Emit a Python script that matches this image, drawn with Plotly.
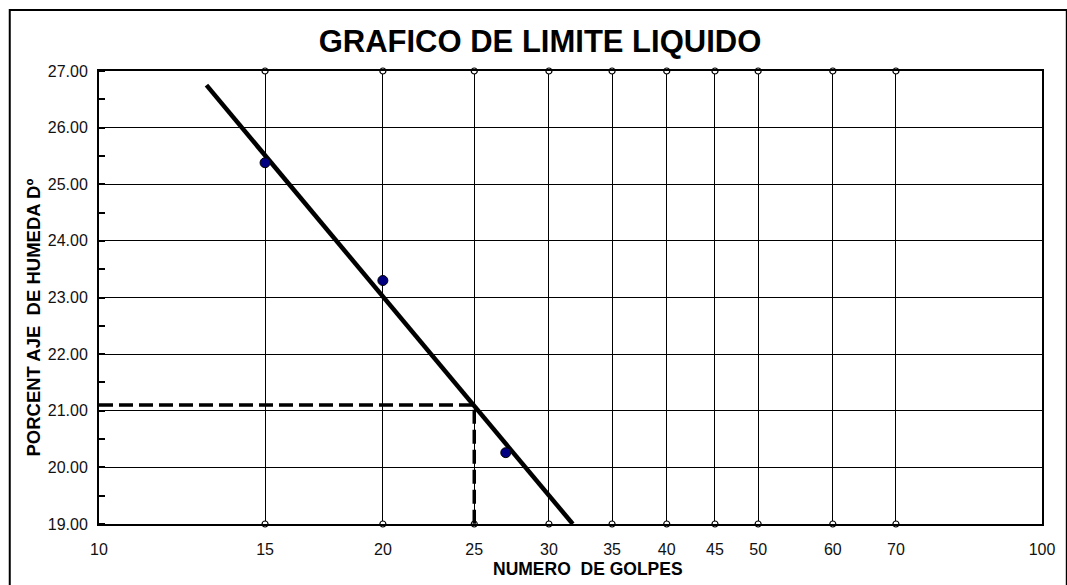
import plotly.graph_objects as go

# ---- data ----
blows = [15, 20, 27]
moisture = [25.38, 23.30, 20.26]

trend_x = [13.0, 31.8]
trend_y = [26.75, 19.0]

ll_blows = 25
ll_value = 21.1

grid_x = [15, 20, 25, 30, 35, 40, 45, 50, 60, 70]
x_tick_vals = [10, 15, 20, 25, 30, 35, 40, 45, 50, 60, 70, 100]
x_tick_text = [str(v) for v in x_tick_vals]

y_min, y_max = 19, 27

FONT = "Liberation Sans, Arial, sans-serif"

fig = go.Figure()

# end markers of vertical grid lines (top & bottom)
fig.add_trace(go.Scatter(
    x=grid_x + grid_x,
    y=[y_max] * len(grid_x) + [y_min] * len(grid_x),
    mode="markers",
    marker=dict(symbol="circle", size=6, color="white",
                line=dict(color="black", width=1.2)),
    cliponaxis=False, hoverinfo="skip", showlegend=False,
))

# liquid limit dashed guide
fig.add_trace(go.Scatter(
    x=[10, ll_blows, ll_blows],
    y=[ll_value, ll_value, y_min],
    mode="lines",
    line=dict(color="black", width=3.5, dash="14px,6px"),
    cliponaxis=False, hoverinfo="skip", showlegend=False,
))

# trend line
fig.add_trace(go.Scatter(
    x=trend_x, y=trend_y, mode="lines",
    line=dict(color="black", width=4.5),
    hoverinfo="skip", showlegend=False,
))

# measured points
fig.add_trace(go.Scatter(
    x=blows, y=moisture, mode="markers",
    marker=dict(symbol="circle", size=10, color="#000080",
                line=dict(color="black", width=1)),
    showlegend=False,
))

fig.update_layout(
    width=1067, height=585,
    margin=dict(l=99, r=17, t=71, b=61),
    paper_bgcolor="white", plot_bgcolor="white",
    font=dict(family=FONT, color="black", size=16),
    title=dict(text="<b>GRAFICO DE LIMITE LIQUIDO</b>",
               x=540 / 1067, xanchor="center",
               y=1 - 41 / 585, yanchor="middle",
               font=dict(family=FONT, size=31, color="black")),
    showlegend=False,
)

fig.update_xaxes(
    type="log", range=[1, 2],
    tickmode="array", tickvals=x_tick_vals, ticktext=x_tick_text,
    showgrid=True, gridcolor="black", gridwidth=1,
    showline=True, linecolor="black", linewidth=2, mirror=True,
    ticks="outside", ticklen=10, tickcolor="rgba(0,0,0,0)",
    tickfont=dict(family=FONT, size=16, color="#111"),
    zeroline=False,
)

fig.update_yaxes(
    range=[y_min, y_max], dtick=1, tick0=19, tickformat=".2f",
    showgrid=True, gridcolor="black", gridwidth=1,
    showline=True, linecolor="black", linewidth=2, mirror=True,
    ticks="outside", ticklen=6, tickcolor="rgba(0,0,0,0)",
    tickfont=dict(family=FONT, size=16, color="#111"),
    minor=dict(dtick=0.5, ticks="inside", ticklen=6, tickcolor="black",
               tickwidth=1.5, showgrid=False),
    zeroline=False,
)

# axis titles
fig.add_annotation(
    text="<b>NUMERO  DE GOLPES</b>", xref="paper", yref="paper",
    x=(592 - 99) / 951, y=(524 - 569) / 453,
    xanchor="center", yanchor="middle", showarrow=False,
    font=dict(family=FONT, size=17.5, color="black"),
)
fig.add_annotation(
    text="<b>PORCENT AJE  DE HUMEDA Dº</b>", xref="paper", yref="paper",
    x=(32 - 99) / 951, y=(524 - 318) / 453, textangle=-90,
    xanchor="center", yanchor="middle", showarrow=False,
    font=dict(family=FONT, size=18.5, color="black"),
)

# outer chart frame
fig.add_shape(
    type="rect", xref="paper", yref="paper",
    x0=(9 - 99) / 951, x1=(1075 - 99) / 951,
    y0=(524 - 595) / 453, y1=(524 - 10) / 453,
    line=dict(color="black", width=2), fillcolor="rgba(0,0,0,0)",
    layer="below",
)

fig.write_html("out.html",
               config={"displayModeBar": False},
               post_script="document.body.style.margin='0';document.body.style.overflow='hidden';")
